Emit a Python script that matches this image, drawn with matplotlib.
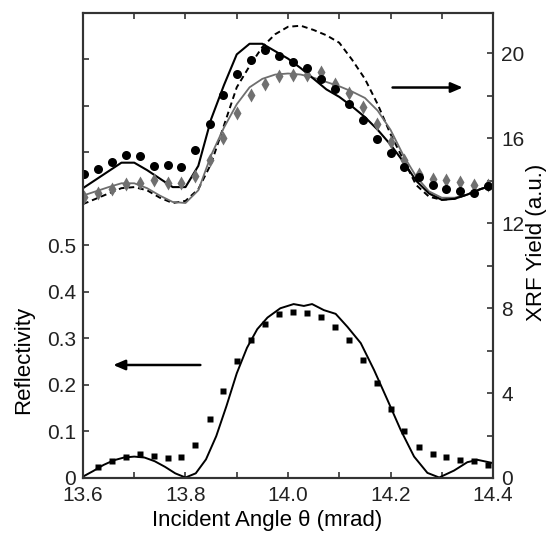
import numpy as np
import matplotlib
matplotlib.use("Agg")
import matplotlib.pyplot as plt

plt.rcParams['font.family'] = ['Liberation Sans', 'DejaVu Sans']

# measured points share one angle grid (mrad)
theta_pts = [13.602, 13.629, 13.656, 13.684, 13.711, 13.738, 13.765, 13.792,
             13.819, 13.847, 13.874, 13.901, 13.928, 13.955, 13.983, 14.010,
             14.037, 14.064, 14.091, 14.119, 14.146, 14.173, 14.200, 14.227,
             14.255, 14.282, 14.309, 14.336, 14.363, 14.391]

# XRF yield, black circles
xrf_circles = [14.31, 14.53, 14.87, 15.20, 15.18, 14.70, 14.76, 14.65,
               15.44, 16.66, 18.02, 19.04, 19.67, 20.17, 19.87, 19.59,
               19.31, 18.78, 18.34, 17.63, 16.88, 15.95, 15.31, 14.65,
               14.18, 13.80, 13.63, 13.52, 13.43, 13.73]

# XRF yield, grey diamonds
xrf_diamonds = [13.24, 13.40, 13.59, 13.84, 13.87, 14.02, 13.87, 13.87,
                14.21, 14.96, 16.03, 17.19, 18.05, 18.57, 18.92, 18.96,
                19.00, 19.10, 18.57, 18.13, 17.47, 16.69, 15.83, 14.96,
                14.31, 14.10, 14.02, 13.94, 13.82, 13.80]

# reflectivity, black squares (starts one step later)
theta_refl = theta_pts[1:]
refl_pts = [0.023, 0.037, 0.046, 0.051, 0.048, 0.044, 0.046, 0.071,
            0.126, 0.188, 0.252, 0.297, 0.331, 0.352, 0.358, 0.354,
            0.346, 0.325, 0.297, 0.254, 0.205, 0.148, 0.101, 0.066,
            0.051, 0.0445, 0.039, 0.0366, 0.028]

# calculated curves
theta_fit = [13.600, 13.625, 13.650, 13.675, 13.700, 13.725, 13.750, 13.775,
             13.800, 13.825, 13.850, 13.875, 13.900, 13.925, 13.950, 13.975,
             14.000, 14.025, 14.050, 14.075, 14.100, 14.125, 14.150, 14.175,
             14.200, 14.225, 14.250, 14.275, 14.300, 14.325, 14.350, 14.375,
             14.400]
xrf_fit_black = [13.65, 14.05, 14.45, 14.85, 14.85, 14.50, 14.10, 13.70,
                 13.70, 14.70, 16.90, 18.50, 19.95, 20.45, 20.45, 20.10,
                 19.75, 19.30, 18.80, 18.30, 17.95, 17.50, 17.00, 16.40,
                 15.70, 14.90, 14.00, 13.40, 13.10, 13.15, 13.35, 13.60,
                 13.80]
xrf_fit_grey = [13.30, 13.50, 13.70, 13.88, 13.88, 13.65, 13.30, 13.00,
                12.95, 13.55, 15.20, 16.50, 17.60, 18.40, 18.80, 19.00,
                19.05, 19.00, 18.85, 18.65, 18.45, 18.20, 17.90, 17.30,
                16.40, 15.20, 14.20, 13.50, 13.20, 13.20, 13.35, 13.60,
                13.80]
xrf_fit_dash = [12.90, 13.15, 13.40, 13.65, 13.70, 13.55, 13.20, 12.95,
                13.05, 13.60, 14.80, 16.60, 18.40, 19.40, 20.30, 20.90,
                21.25, 21.30, 21.10, 20.85, 20.50, 19.70, 18.80, 17.60,
                16.20, 15.00, 13.80, 13.25, 13.10, 13.15, 13.35, 13.60,
                13.80]

theta_refl_fit = [13.600, 13.620, 13.640, 13.660, 13.680, 13.700, 13.720,
                  13.740, 13.760, 13.780, 13.800, 13.820, 13.840, 13.860,
                  13.880, 13.900, 13.920, 13.940, 13.960, 13.985, 14.011,
                  14.031, 14.047, 14.070, 14.093, 14.116, 14.142, 14.168,
                  14.194, 14.220, 14.246, 14.272, 14.295, 14.324, 14.350,
                  14.370, 14.400]
refl_fit = [0.003, 0.015, 0.028, 0.038, 0.044, 0.046, 0.044, 0.036, 0.024,
            0.010, 0.001, 0.010, 0.040, 0.090, 0.155, 0.225, 0.280, 0.320,
            0.345, 0.365, 0.374, 0.370, 0.374, 0.361, 0.353, 0.325, 0.290,
            0.232, 0.168, 0.103, 0.046, 0.011, 0.001, 0.016, 0.034, 0.039,
            0.032]

fig = plt.figure(figsize=(5.54, 5.39), dpi=100)
ax = fig.add_axes([0.1498, 0.1132, 0.7401, 0.8627])
ax2 = ax.twinx()

# reflectivity (left axis)
ax.plot(theta_refl_fit, refl_fit, color='black', lw=1.4)
ax.plot(theta_refl, refl_pts, 's', color='black', ms=4.8, mec='none')

# XRF yield (right axis)
ax2.plot(theta_fit, xrf_fit_dash, color='black', lw=1.4, ls=(0, (3, 2)))
ax2.plot(theta_fit, xrf_fit_grey, color='#6e6e6e', lw=1.3)
ax2.plot(theta_fit, xrf_fit_black, color='black', lw=1.5)
ax2.plot(theta_pts, xrf_diamonds, 'd', color='#707070', ms=7, mec='none')
ax2.plot(theta_pts, xrf_circles, 'o', color='black', ms=6.5, mec='none')

ax.set_xlim(13.6, 14.4)
ax.set_ylim(0, 1.0)
ax2.set_ylim(0, 21.9)

ax.set_xticks([13.6, 13.8, 14.0, 14.2, 14.4])
ax.set_xticklabels(['13.6', '13.8', '14.0', '14.2', '14.4'])
ax.set_xticks([13.7, 13.9, 14.1, 14.3], minor=True)
ax.set_yticks([0, 0.1, 0.2, 0.3, 0.4, 0.5])
ax.set_yticklabels(['0', '0.1', '0.2', '0.3', '0.4', '0.5'])
ax.set_yticks([0.7, 0.8, 0.9], minor=True)
ax2.set_yticks([0, 4, 8, 12, 16, 20])
ax2.set_yticks([2, 6, 10, 14, 18], minor=True)

for a in (ax, ax2):
    a.tick_params(which='both', direction='in', length=4, width=1.1,
                  labelsize=15, top=True, colors='#222222')
    for s in a.spines.values():
        s.set_linewidth(1.5)
        s.set_color('#333333')
ax.tick_params(axis='y', which='both', right=False, pad=5)
ax.tick_params(axis='x', pad=6)
ax2.tick_params(axis='y', which='both', left=False, pad=6)

ax.set_xlabel('Incident Angle θ (mrad)', fontsize=16)
ax.xaxis.set_label_coords(0.449, -0.068)
ax.set_ylabel('Reflectivity', fontsize=16)
ax.yaxis.set_label_coords(-0.118, 0.254)
ax2.set_ylabel('XRF Yield (a.u.)', fontsize=16)
ax2.yaxis.set_label_coords(1.08, 0.507)

arrow = dict(arrowstyle='-|>,head_length=0.7,head_width=0.3', color='black', lw=1.8,
             shrinkA=0, shrinkB=0)
ax2.annotate('', xy=(14.341, 18.39), xytext=(14.204, 18.39), arrowprops=arrow)
ax.annotate('', xy=(13.659, 0.243), xytext=(13.829, 0.243), arrowprops=arrow)

fig.savefig('out.png', dpi=100)
